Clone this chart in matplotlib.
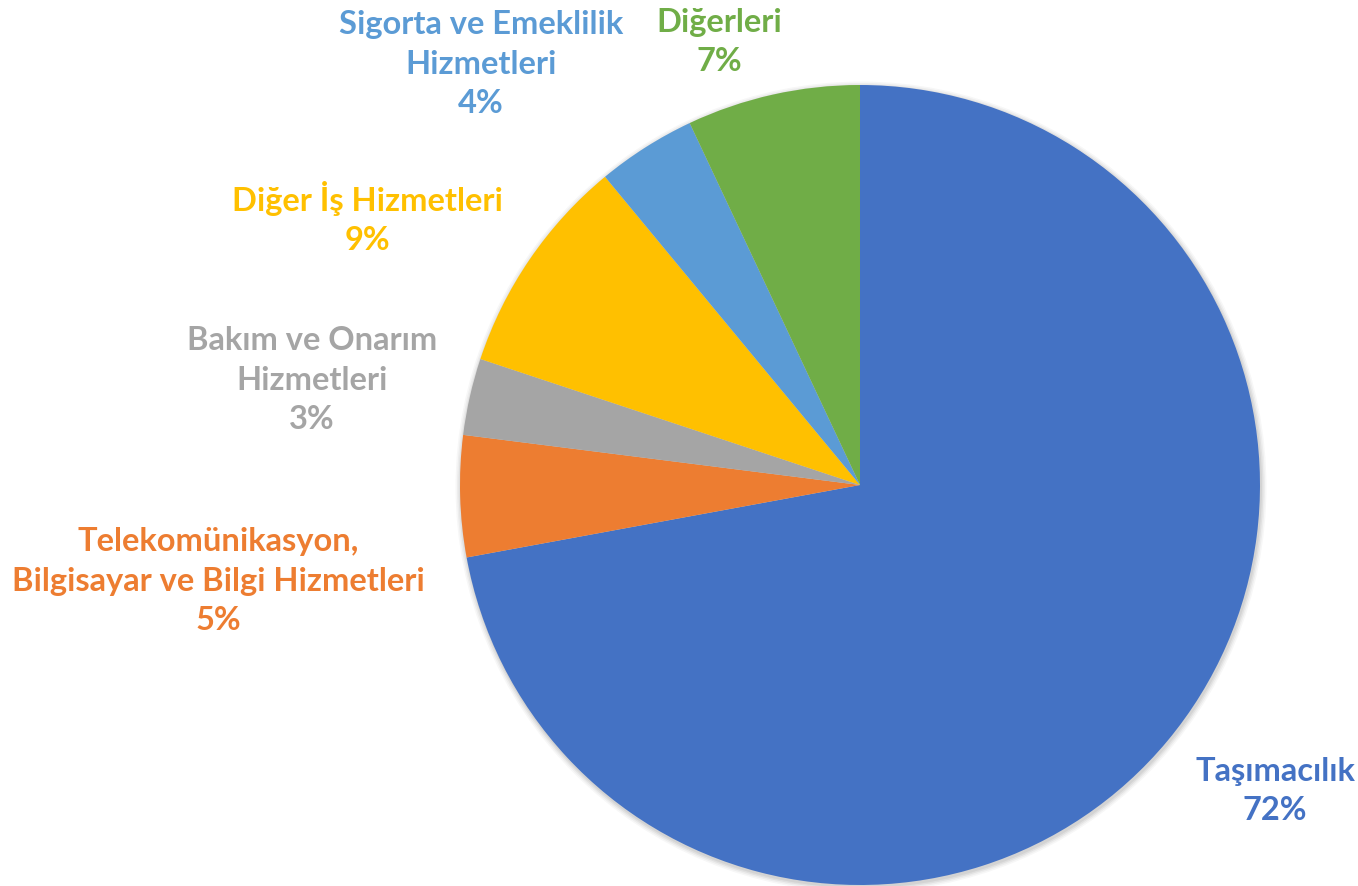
import matplotlib
matplotlib.use("Agg")
import matplotlib.pyplot as plt
from matplotlib.patches import Circle

# data
categories = ["Taşımacılık",
              "Telekomünikasyon,\nBilgisayar ve Bilgi Hizmetleri",
              "Bakım ve Onarım\nHizmetleri",
              "Diğer İş Hizmetleri",
              "Sigorta ve Emeklilik\nHizmetleri",
              "Diğerleri"]
values = [72.1, 4.9, 3.1, 8.9, 4.0, 7.0]
pct_labels = ["72%", "5%", "3%", "9%", "4%", "7%"]
colors = ["#4472C4", "#ED7D31", "#A5A5A5", "#FFC000", "#5B9BD5", "#70AD47"]

# label centres in pixels (x, y from top)
label_pos = [(1275, 791), (218, 581), (312, 380), (367, 218), (481, 64), (719, 42)]

W, H = 1358, 886
cx, cy, r = 860, H - 485, 400

fig = plt.figure(figsize=(W / 100, H / 100), dpi=100)
ax = fig.add_axes([0, 0, 1, 1])

# soft shadow around the pie
for i, a in enumerate([0.06, 0.05, 0.04, 0.03]):
    ax.add_patch(Circle((cx + 1, cy - 2), r + 1 + i * 1.5, color="black", alpha=a, lw=0, zorder=0))

ax.pie(values, colors=colors, startangle=90, counterclock=False,
       center=(cx, cy), radius=r, frame=True,
       wedgeprops=dict(linewidth=0, zorder=1))
ax.set_xlim(0, W)
ax.set_ylim(0, H)
ax.set_aspect("equal")
ax.axis("off")

for cat, pct, col, (x, y) in zip(categories, pct_labels, colors, label_pos):
    ax.text(x, H - y, cat + "\n" + pct, color=col, ha="center", va="center",
            fontsize=23.5, fontweight="bold", family="Lato", linespacing=1.45)

fig.savefig("out.png", dpi=100)
